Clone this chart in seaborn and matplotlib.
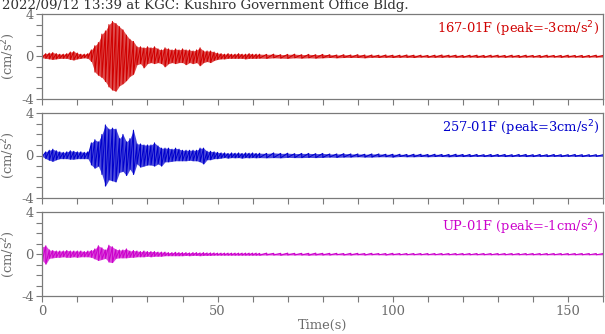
import numpy as np
import pandas as pd
import matplotlib
matplotlib.use("Agg")
import matplotlib.pyplot as plt
import seaborn as sns

# ---------------- data (envelope, cm/s^2) ----------------
time_s = list(range(0, 62)) + list(range(62, 161, 2))

ns_upper = [0.15, 0.25, 0.3, 0.35, 0.25, 0.2, 0.2, 0.25, 0.4, 0.45,
            0.3, 0.2, 0.2, 0.25, 0.6, 1.0, 1.3, 2.1, 2.4, 3.0,
            3.3, 3.1, 2.8, 2.5, 2.0, 1.6, 1.4, 0.9, 0.9, 0.8,
            0.9, 0.8, 0.9, 0.7, 0.6, 0.8, 0.7, 0.6, 0.7, 0.6,
            0.7, 0.6, 0.6, 0.5, 0.6, 0.8, 0.5, 0.5, 0.5, 0.4,
            0.3, 0.25, 0.2, 0.25, 0.2, 0.2, 0.25, 0.2, 0.2, 0.25,
            0.2, 0.2,
            0.2, 0.18, 0.2, 0.15, 0.18, 0.2, 0.15, 0.18, 0.15, 0.18,
            0.15, 0.12, 0.15, 0.12, 0.15, 0.12, 0.12, 0.1, 0.12, 0.1,
            0.1, 0.12, 0.1, 0.1, 0.08, 0.1, 0.12, 0.1, 0.1, 0.08,
            0.1, 0.1, 0.08, 0.1, 0.1, 0.08, 0.1, 0.08, 0.1, 0.08,
            0.08, 0.1, 0.08, 0.08, 0.1, 0.08, 0.08, 0.08, 0.1, 0.08]
ns_lower = [0.15, 0.2, 0.25, 0.3, 0.25, 0.2, 0.2, 0.2, 0.3, 0.35,
            0.25, 0.2, 0.15, 0.2, 0.5, 1.5, 1.8, 2.0, 2.4, 2.9,
            3.2, 3.3, 2.8, 2.6, 2.3, 1.9, 1.7, 0.8, 0.7, 1.1,
            0.7, 0.6, 0.7, 0.6, 0.7, 1.0, 0.7, 0.6, 0.7, 0.6,
            0.6, 0.8, 0.6, 0.7, 0.6, 0.9, 0.6, 0.5, 0.6, 0.4,
            0.3, 0.25, 0.25, 0.2, 0.2, 0.2, 0.2, 0.2, 0.25, 0.2,
            0.2, 0.2,
            0.18, 0.2, 0.15, 0.18, 0.2, 0.15, 0.18, 0.15, 0.18, 0.15,
            0.12, 0.15, 0.12, 0.12, 0.12, 0.15, 0.1, 0.12, 0.1, 0.12,
            0.1, 0.1, 0.12, 0.08, 0.1, 0.1, 0.1, 0.08, 0.1, 0.1,
            0.08, 0.1, 0.1, 0.08, 0.08, 0.1, 0.08, 0.1, 0.08, 0.08,
            0.1, 0.08, 0.08, 0.1, 0.08, 0.08, 0.1, 0.08, 0.08, 0.08]

ew_upper = [0.1, 0.35, 0.5, 0.6, 0.45, 0.35, 0.3, 0.35, 0.45, 0.4,
            0.35, 0.35, 0.3, 0.35, 1.2, 1.5, 1.3, 2.0, 2.9, 2.5,
            2.6, 2.5, 1.6, 2.0, 1.3, 1.6, 2.4, 1.1, 1.1, 1.0,
            1.0, 1.0, 1.2, 0.9, 0.7, 0.7, 0.7, 0.6, 0.7, 0.6,
            0.5, 0.5, 0.5, 0.5, 0.5, 0.7, 0.7, 0.4, 0.4, 0.35,
            0.3, 0.25, 0.25, 0.2, 0.25, 0.22, 0.25, 0.2, 0.25, 0.22,
            0.25, 0.2,
            0.22, 0.2, 0.25, 0.2, 0.22, 0.18, 0.2, 0.2, 0.18, 0.2,
            0.15, 0.15, 0.18, 0.15, 0.15, 0.12, 0.15, 0.15, 0.12, 0.12,
            0.12, 0.1, 0.12, 0.12, 0.1, 0.12, 0.1, 0.1, 0.12, 0.1,
            0.1, 0.1, 0.08, 0.1, 0.1, 0.1, 0.08, 0.1, 0.1, 0.08,
            0.1, 0.08, 0.1, 0.08, 0.08, 0.1, 0.08, 0.08, 0.08, 0.08]
ew_lower = [0.1, 0.3, 0.45, 0.55, 0.4, 0.3, 0.3, 0.3, 0.35, 0.35,
            0.3, 0.3, 0.3, 0.3, 0.9, 1.2, 1.0, 1.8, 2.9, 2.3,
            2.4, 2.5, 1.6, 1.5, 1.9, 1.3, 1.8, 0.8, 1.1, 1.0,
            0.9, 0.9, 1.0, 0.8, 1.0, 0.6, 0.6, 0.55, 0.5, 0.5,
            0.5, 0.5, 0.45, 0.5, 0.5, 0.6, 0.8, 0.4, 0.4, 0.3,
            0.3, 0.25, 0.2, 0.25, 0.2, 0.22, 0.2, 0.25, 0.2, 0.22,
            0.2, 0.22,
            0.2, 0.22, 0.2, 0.22, 0.18, 0.2, 0.2, 0.18, 0.2, 0.18,
            0.15, 0.18, 0.15, 0.15, 0.12, 0.15, 0.15, 0.12, 0.12, 0.15,
            0.1, 0.12, 0.12, 0.1, 0.12, 0.1, 0.1, 0.12, 0.1, 0.1,
            0.1, 0.08, 0.1, 0.1, 0.08, 0.1, 0.1, 0.08, 0.1, 0.1,
            0.08, 0.1, 0.08, 0.1, 0.08, 0.08, 0.1, 0.08, 0.08, 0.08]

ud_upper = [0.7, 0.8, 0.4, 0.35, 0.3, 0.3, 0.3, 0.35, 0.3, 0.3,
            0.3, 0.3, 0.25, 0.3, 0.35, 0.5, 0.8, 0.6, 0.4, 0.85,
            0.7, 0.45, 0.4, 0.4, 0.5, 0.3, 0.35, 0.3, 0.25, 0.3,
            0.25, 0.25, 0.25, 0.2, 0.2, 0.2, 0.15, 0.15, 0.18, 0.15,
            0.15, 0.15, 0.12, 0.15, 0.15, 0.12, 0.15, 0.12, 0.12, 0.12,
            0.1, 0.1, 0.1, 0.1, 0.1, 0.1, 0.1, 0.1, 0.1, 0.1,
            0.1, 0.1,
            0.08, 0.1, 0.08, 0.08, 0.1, 0.08, 0.08, 0.08, 0.1, 0.08,
            0.08, 0.08, 0.06, 0.08, 0.08, 0.06, 0.08, 0.06, 0.06, 0.08,
            0.06, 0.06, 0.06, 0.06, 0.06, 0.06, 0.06, 0.06, 0.06, 0.06,
            0.06, 0.06, 0.06, 0.06, 0.06, 0.06, 0.06, 0.06, 0.06, 0.06,
            0.06, 0.06, 0.06, 0.06, 0.06, 0.06, 0.06, 0.06, 0.06, 0.06]
ud_lower = [0.6, 0.95, 0.4, 0.35, 0.3, 0.3, 0.25, 0.3, 0.3, 0.25,
            0.3, 0.25, 0.25, 0.25, 0.3, 0.45, 0.6, 0.5, 0.4, 0.75,
            0.8, 0.4, 0.35, 0.35, 0.35, 0.3, 0.3, 0.25, 0.25, 0.25,
            0.2, 0.25, 0.2, 0.2, 0.2, 0.15, 0.15, 0.15, 0.15, 0.15,
            0.15, 0.12, 0.15, 0.12, 0.12, 0.15, 0.12, 0.12, 0.12, 0.1,
            0.1, 0.1, 0.1, 0.1, 0.1, 0.1, 0.1, 0.1, 0.1, 0.1,
            0.1, 0.1,
            0.1, 0.08, 0.08, 0.1, 0.08, 0.08, 0.08, 0.1, 0.08, 0.08,
            0.08, 0.06, 0.08, 0.08, 0.06, 0.08, 0.06, 0.06, 0.08, 0.06,
            0.06, 0.06, 0.06, 0.06, 0.06, 0.06, 0.06, 0.06, 0.06, 0.06,
            0.06, 0.06, 0.06, 0.06, 0.06, 0.06, 0.06, 0.06, 0.06, 0.06,
            0.06, 0.06, 0.06, 0.06, 0.06, 0.06, 0.06, 0.06, 0.06, 0.06]

channel_names = ["167-01F", "257-01F", "UP-01F"]
peak_values = [-3, 3, -1]
channel_colors = ["#d00000", "#0000cc", "#cc00cc"]
title_text = "2022/09/12 13:39 at KGC: Kushiro Government Office Bldg."
x_tick_labels = ["0", "50", "100", "150"]
y_tick_labels = ["-4", "0", "4"]

# ---------------- figure ----------------
sns.set_style("white")
plt.rcParams["font.family"] = ["DejaVu Serif"]

W, H = 605, 334
fig = plt.figure(figsize=(W / 100, H / 100), dpi=100)

gray = "#7a7a7a"
label_gray = "#6a6a6a"
panel_px = [(14.0, 98.5), (113.3, 197.7), (212.0, 296.3)]
left_px, right_px = 42.3, 603.3

uppers = [ns_upper, ew_upper, ud_upper]
lowers = [ns_lower, ew_lower, ud_lower]


def zigzag(t, up, lo):
    # each reading becomes a vertical stroke from its minimum to its maximum
    xs, ys = [], []
    for ti, u, l in zip(t, up, lo):
        xs += [ti, ti]
        ys += [u, -l]
    return xs, ys


fs = 9.4
for k in range(3):
    top, bot = panel_px[k]
    ax = fig.add_axes([left_px / W, 1 - bot / H, (right_px - left_px) / W, (bot - top) / H])
    ax.fill_between(time_s, [-v for v in lowers[k]], uppers[k],
                    color=channel_colors[k], lw=0, alpha=0.7)
    xs, ys = zigzag(time_s, uppers[k], lowers[k])
    df = pd.DataFrame({"t": xs, "a": ys})
    sns.lineplot(data=df, x="t", y="a", ax=ax, color=channel_colors[k], lw=0.75,
                 sort=False, estimator=None)
    ax.set_xlim(0, 160)
    ax.set_ylim(-4, 4)
    ax.set_xticks(np.arange(0, 161, 10))
    ax.set_yticks(np.arange(-4, 5, 1))
    ax.set_yticklabels([y_tick_labels[0], "", "", "", y_tick_labels[1], "", "", "", y_tick_labels[2]])
    if k == 2:
        ax.set_xticklabels([x_tick_labels[i // 5] if i % 5 == 0 else "" for i in range(17)])
        ax.set_xlabel("Time(s)", color=label_gray, fontsize=fs, labelpad=1)
    else:
        ax.set_xticklabels([])
        ax.set_xlabel("")
    ax.set_ylabel("(cm/s$^2$)", color=label_gray, fontsize=fs)
    ax.yaxis.set_label_coords(-(left_px - 17.5) / (right_px - left_px), 0.5)
    ax.tick_params(axis="both", direction="out", length=4, width=0.8, color=gray,
                   labelcolor=label_gray, labelsize=fs, pad=2,
                   bottom=True, left=True, top=False, right=False)
    for s in ax.spines.values():
        s.set_color(gray)
        s.set_linewidth(0.9)
    ax.text(0.993, 0.94, f"{channel_names[k]} (peak={peak_values[k]}cm/s$^2$)",
            transform=ax.transAxes, ha="right", va="top", color=channel_colors[k], fontsize=fs)

fig.text(2 / W, 1 - 9.4 / H, title_text, ha="left", va="baseline", color="#333333", fontsize=9.6)

fig.savefig("out.png", dpi=100)
